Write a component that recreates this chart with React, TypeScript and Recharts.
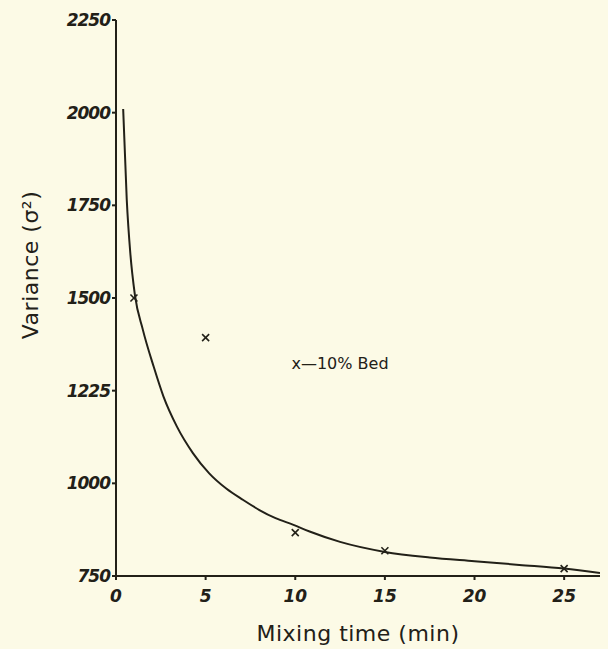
import React from "react";
import { ComposedChart, Line, Scatter, XAxis, YAxis, Label } from "recharts";

const curveX = [0.4, 0.6, 0.8, 1.05, 1.5, 2.1, 2.65, 3.4, 4.3, 5.2, 6.15, 7.1, 8.0, 8.9, 9.9, 10.8, 12.5, 15, 17.5, 20, 22.5, 25, 27];
const curveY = [2010, 1765, 1620, 1510, 1414, 1315, 1234, 1153, 1081, 1027, 986, 955, 928, 906, 888, 870, 842, 815, 800, 790, 780, 770, 758];

const pointX = [1, 5, 10, 15, 25];
const pointY = [1500, 1393, 867, 818, 770];

const xTicks = [0, 5, 10, 15, 20, 25];
const yTickValues = [750, 1000, 1250, 1500, 1750, 2000, 2250];
const yTickLabels = ["750", "1000", "1225", "1500", "1750", "2000", "2250"];

const curve = curveX.map((x, i) => ({ x, y: curveY[i] }));
const points = pointX.map((x, i) => ({ x, y: pointY[i] }));

const INK = "#222018";
const BG = "#fcfae6";

const XMark = (props: any) => {
  const { cx, cy } = props;
  const s = 3.5;
  return (
    <g stroke={INK} strokeWidth={1.6}>
      <line x1={cx - s} y1={cy - s} x2={cx + s} y2={cy + s} />
      <line x1={cx - s} y1={cy + s} x2={cx + s} y2={cy - s} />
    </g>
  );
};

const YTick = (props: any) => {
  const { x, y, payload } = props;
  const idx = yTickValues.indexOf(payload.value);
  return (
    <text x={x} y={y} dy={6} textAnchor="end" fontSize={17} fontStyle="italic" fontWeight={600}
      fontFamily="DejaVu Sans, sans-serif" fill={INK} letterSpacing={-1}>
      {idx >= 0 ? yTickLabels[idx] : payload.value}
    </text>
  );
};

const XTick = (props: any) => {
  const { x, y, payload } = props;
  return (
    <text x={x} y={y} dy={20} textAnchor="middle" fontSize={17} fontStyle="italic" fontWeight={600}
      fontFamily="DejaVu Sans, sans-serif" fill={INK}>
      {payload.value}
    </text>
  );
};

export default function App() {
  return (
    <div style={{ position: "fixed", left: 0, top: 0, width: 608, height: 649, background: BG }}>
      <ComposedChart width={608} height={649} margin={{ top: 20, right: 8, bottom: 0, left: 0 }}>
        <XAxis type="number" dataKey="x" domain={[0, 27]} ticks={xTicks} allowDataOverflow
          height={73} stroke={INK} strokeWidth={2} tickSize={4} tick={<XTick />}>
          <Label value="Mixing time (min)" position="insideBottom" offset={8}
            style={{ fontSize: 22, fill: INK, fontFamily: "DejaVu Sans, sans-serif", letterSpacing: 0.5 }} />
        </XAxis>
        <YAxis type="number" dataKey="y" domain={[750, 2250]} ticks={yTickValues} allowDataOverflow
          width={116} stroke={INK} strokeWidth={2} tickSize={4} tick={<YTick />} />
        <Line data={curve} dataKey="y" type="monotone" stroke={INK} strokeWidth={2} dot={false}
          isAnimationActive={false} />
        <Scatter data={points} dataKey="y" shape={<XMark />} isAnimationActive={false} />
        <text x={30} y={265} transform="rotate(-90, 30, 265)" dy={8} textAnchor="middle" fontSize={22}
          fill={INK} fontFamily="DejaVu Sans, sans-serif" letterSpacing={0.5}>Variance (σ²)</text>
        <text x={340} y={369} textAnchor="middle" fontSize={16} fill={INK}
          fontFamily="DejaVu Sans, sans-serif">x—10% Bed</text>
      </ComposedChart>
    </div>
  );
}
